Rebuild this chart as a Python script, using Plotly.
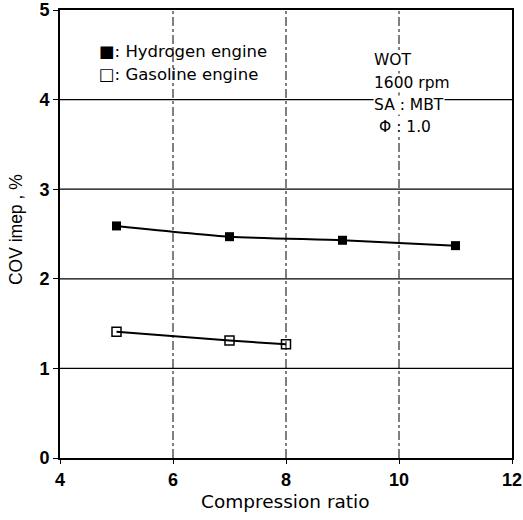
import plotly.graph_objects as go

# Compression ratio sweep and cycle-to-cycle variation of IMEP (%)
h2_cr = [5, 7, 9, 11]
h2_cov = [2.59, 2.47, 2.43, 2.37]
gas_cr = [5, 7, 8]
gas_cov = [1.41, 1.31, 1.27]

x_ticks = [4, 6, 8, 10, 12]
y_ticks = [0, 1, 2, 3, 4, 5]

TICK_FONT = "Liberation Sans, Arial, sans-serif"
TEXT_FONT = "DejaVu Sans, Verdana, sans-serif"

fig = go.Figure()
fig.add_trace(go.Scatter(
    x=h2_cr, y=h2_cov, mode="lines+markers",
    line=dict(color="black", width=2, shape="spline", smoothing=0.6),
    marker=dict(symbol="square", size=9, color="black"),
    showlegend=False,
))
fig.add_trace(go.Scatter(
    x=gas_cr, y=gas_cov, mode="lines+markers",
    line=dict(color="black", width=2, shape="spline", smoothing=0.6),
    marker=dict(symbol="square-open", size=9, color="black", line=dict(width=1.5)),
    showlegend=False,
))

# Grid: solid horizontal lines, dash-dot vertical lines
for yv in [1, 2, 3, 4]:
    fig.add_shape(type="line", xref="paper", x0=0, x1=1, yref="y", y0=yv, y1=yv,
                  line=dict(color="black", width=1.3), layer="below")
for xv in [6, 8, 10]:
    fig.add_shape(type="line", xref="x", x0=xv, x1=xv, yref="paper", y0=0, y1=1,
                  line=dict(color="black", width=1, dash="dashdot"), layer="below")

# Legend key
fig.add_annotation(xref="paper", yref="paper", x=0.082, y=0.908,
                   xanchor="left", yanchor="middle",
                   text="■: Hydrogen engine", showarrow=False,
                   font=dict(family=TEXT_FONT, size=16.5, color="black"))
fig.add_annotation(xref="paper", yref="paper", x=0.082, y=0.857,
                   xanchor="left", yanchor="middle",
                   text="□: Gasoline engine", showarrow=False,
                   font=dict(family=TEXT_FONT, size=16.5, color="black"))

# Operating conditions
for txt, yy, xx in [("WOT", 0.888, 0.693), ("1600 rpm", 0.837, 0.693),
                    ("SA : MBT", 0.788, 0.693), ("\u03a6 : 1.0", 0.739, 0.703)]:
    fig.add_annotation(xref="paper", yref="paper", x=xx, y=yy,
                       xanchor="left", yanchor="middle",
                       text=txt, showarrow=False, bgcolor="white", borderpad=0,
                       font=dict(family=TEXT_FONT, size=15.5, color="black"))

# Axis titles
fig.add_annotation(xref="paper", yref="paper", x=-0.097, y=0.509,
                   xanchor="center", yanchor="middle",
                   text="COV imep , %", showarrow=False, textangle=-90,
                   font=dict(family=TICK_FONT, size=17.5, color="black"))
fig.add_annotation(xref="paper", yref="paper", x=0.498, y=-0.097,
                   xanchor="center", yanchor="middle",
                   text="Compression ratio", showarrow=False,
                   font=dict(family=TEXT_FONT, size=18.5, color="black"))

fig.update_xaxes(
    range=[4, 12], tickvals=x_ticks, ticks="outside", ticklen=4, tickcolor="black",
    showgrid=False, zeroline=False, showline=True, linecolor="black", linewidth=2,
    mirror=True, automargin=False,
    tickfont=dict(family=TICK_FONT, size=18, color="black", weight="bold"),
)
fig.update_yaxes(
    range=[0, 5], tickvals=y_ticks, ticks="outside", ticklen=5, tickcolor="black",
    showgrid=False, zeroline=False, showline=True, linecolor="black", linewidth=2,
    mirror=True, automargin=False,
    tickfont=dict(family=TICK_FONT, size=18, color="black", weight="bold"),
)

fig.update_layout(
    width=523, height=520,
    margin=dict(l=60, r=11, t=10, b=62),
    paper_bgcolor="white", plot_bgcolor="white",
)

fig.write_html("out.html")
